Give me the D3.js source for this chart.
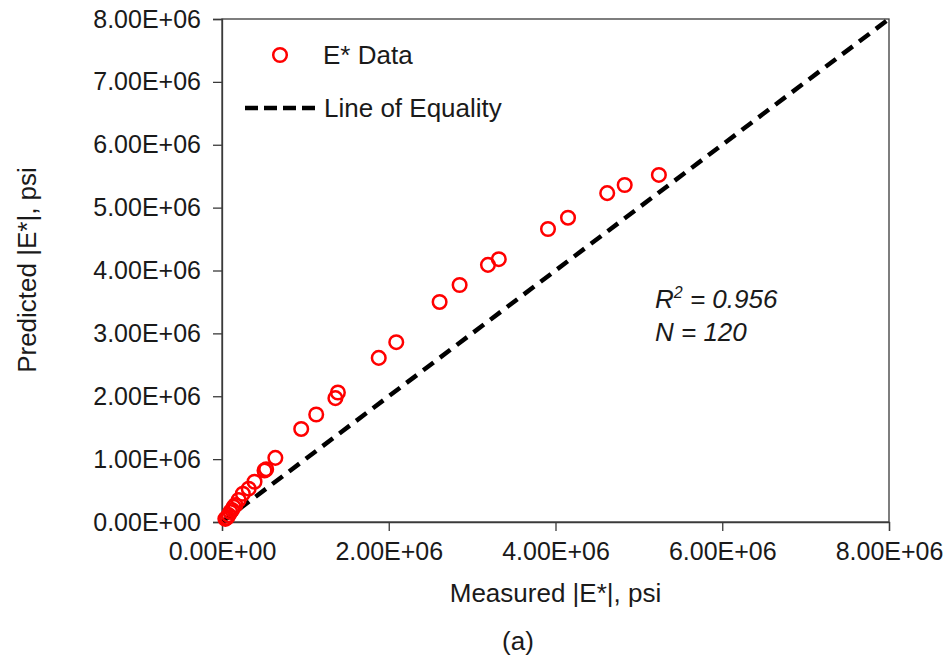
<!DOCTYPE html>
<html>
<head>
<meta charset="utf-8">
<script src="https://cdn.jsdelivr.net/npm/d3@7"></script>
<style>
  body { margin: 0; background: #fff; }
  svg text { font-family: "Liberation Sans", Arial, sans-serif; fill: #1a1a1a; }
</style>
</head>
<body>
<svg id="chart" width="950" height="661"></svg>
<script>
// measured |E*| (psi) and predicted |E*| (psi)
const measured = [5.24e6, 4.83e6, 4.62e6, 4.15e6, 3.91e6, 3.32e6, 3.19e6, 2.85e6, 2.61e6,
  2.09e6, 1.88e6, 1.39e6, 1.36e6, 1.13e6, 0.95e6, 0.64e6, 0.53e6, 0.51e6, 0.39e6, 0.32e6,
  0.20e6, 0.16e6, 0.12e6, 0.08e6, 0.06e6, 0.04e6, 0.25e6, 0.14e6, 0.10e6];
const predicted = [5.52e6, 5.36e6, 5.23e6, 4.84e6, 4.66e6, 4.18e6, 4.09e6, 3.77e6, 3.50e6,
  2.86e6, 2.61e6, 2.06e6, 1.97e6, 1.71e6, 1.48e6, 1.02e6, 0.84e6, 0.82e6, 0.64e6, 0.53e6,
  0.35e6, 0.27e6, 0.19e6, 0.11e6, 0.07e6, 0.05e6, 0.45e6, 0.24e6, 0.16e6];
const ticks = [0, 1e6, 2e6, 3e6, 4e6, 5e6, 6e6, 7e6, 8e6];
const xTicks = [0, 2e6, 4e6, 6e6, 8e6];
const equality = [0, 8e6];

const svg = d3.select("#chart");
const margin = {top: 19, right: 61, bottom: 139, left: 222};
const width = 950 - margin.left - margin.right;
const height = 661 - margin.top - margin.bottom;
const g = svg.append("g").attr("transform", `translate(${margin.left},${margin.top})`);

const x = d3.scaleLinear().domain([0, 8e6]).range([0, width]);
const y = d3.scaleLinear().domain([0, 8e6]).range([height, 0]);
const fmt = v => v.toExponential(2).toUpperCase().replace(/E([+-])(\d)$/, "E$10$2");

// box
g.append("rect")
  .attr("width", width).attr("height", height)
  .attr("fill", "none").attr("stroke", "#3a3a3a").attr("stroke-width", 1.3);

const yAxis = g.append("g")
  .call(d3.axisLeft(y).tickValues(ticks).tickFormat(fmt).tickSize(9).tickPadding(12));
const xAxis = g.append("g")
  .attr("transform", `translate(0,${height})`)
  .call(d3.axisBottom(x).tickValues(xTicks).tickFormat(fmt).tickSize(9).tickPadding(11));
[yAxis, xAxis].forEach(a => {
  a.selectAll("path, line").attr("stroke", "#3a3a3a").attr("stroke-width", 1.3);
  a.selectAll("text").attr("font-size", 25).attr("fill", "#1a1a1a")
    .style("font-family", "'Liberation Sans', Arial, sans-serif");
});

// line of equality
g.append("line")
  .attr("x1", x(equality[0])).attr("y1", y(equality[0]))
  .attr("x2", x(equality[1])).attr("y2", y(equality[1]))
  .attr("stroke", "#000").attr("stroke-width", 4.5).attr("stroke-dasharray", "13,8");

// data
g.selectAll("circle.pt")
  .data(measured.map((m, i) => [m, predicted[i]]))
  .join("circle")
  .attr("class", "pt")
  .attr("cx", d => x(d[0]))
  .attr("cy", d => y(d[1]))
  .attr("r", 6.8)
  .attr("fill", "none")
  .attr("stroke", "#ff0000")
  .attr("stroke-width", 2.5);

// legend
svg.append("circle").attr("cx", 280).attr("cy", 55).attr("r", 6.8)
  .attr("fill", "none").attr("stroke", "#ff0000").attr("stroke-width", 2.5);
svg.append("text").attr("x", 323).attr("y", 64).attr("font-size", 26).text("E* Data");
svg.append("line").attr("x1", 245).attr("x2", 318).attr("y1", 108).attr("y2", 108)
  .attr("stroke", "#000").attr("stroke-width", 4.5).attr("stroke-dasharray", "13,6");
svg.append("text").attr("x", 324).attr("y", 117).attr("font-size", 26).text("Line of Equality");

// stats
const st = svg.append("text").attr("x", 655).attr("y", 308).attr("font-size", 26)
  .attr("font-style", "italic");
st.append("tspan").text("R");
st.append("tspan").attr("font-size", 16).attr("dy", -10).text("2");
st.append("tspan").attr("dy", 10).text(" = 0.956");
svg.append("text").attr("x", 655).attr("y", 341).attr("font-size", 26)
  .attr("font-style", "italic").text("N = 120");

// axis titles
svg.append("text").attr("x", margin.left + width / 2).attr("y", 602)
  .attr("text-anchor", "middle").attr("font-size", 26).text("Measured |E*|, psi");
svg.append("text").attr("transform", "translate(36,270) rotate(-90)")
  .attr("text-anchor", "middle").attr("font-size", 26).text("Predicted |E*|, psi");
svg.append("text").attr("x", 518).attr("y", 650)
  .attr("text-anchor", "middle").attr("font-size", 26).text("(a)");
</script>
</body>
</html>
